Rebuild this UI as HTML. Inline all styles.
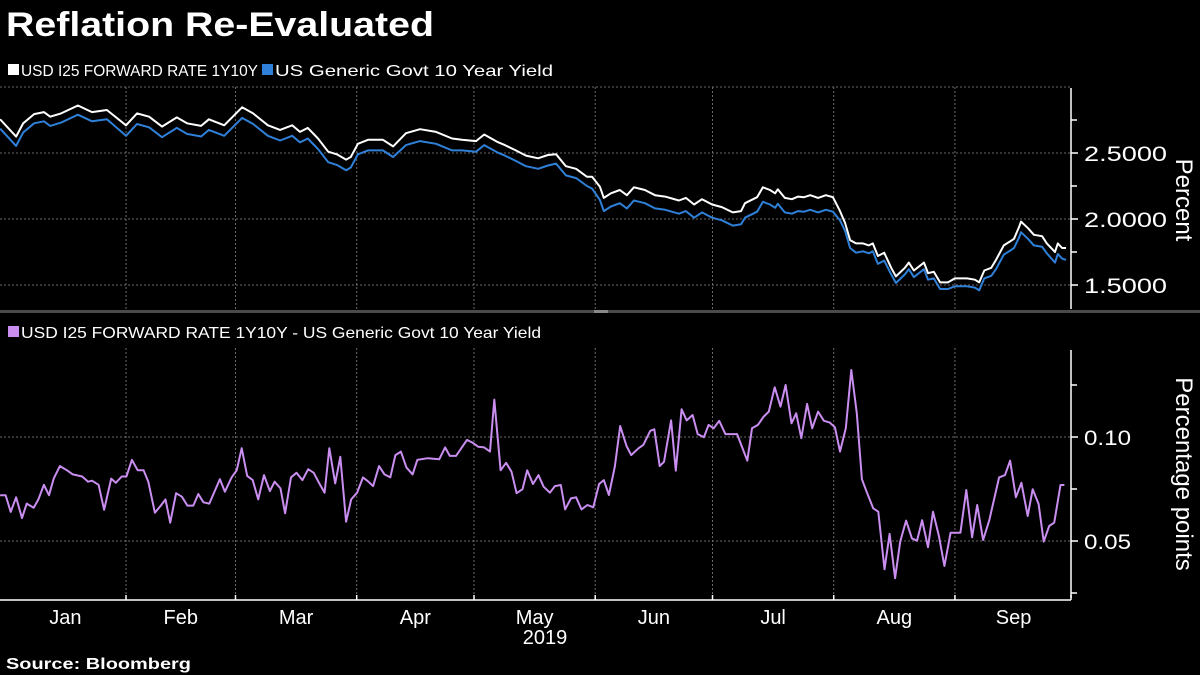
<!DOCTYPE html>
<html><head><meta charset="utf-8"><style>
html,body{margin:0;padding:0;background:#000;}
body{width:1200px;height:675px;overflow:hidden;font-family:"Liberation Sans",sans-serif;}
</style></head><body>
<svg id="chart" width="1200" height="675" xmlns="http://www.w3.org/2000/svg" style="display:block">
<text x="6" y="36" fill="#fff" font-size="34" font-weight="bold" textLength="428" lengthAdjust="spacingAndGlyphs" font-family="Liberation Sans, sans-serif">Reflation Re-Evaluated</text>
<g>
<rect x="8" y="64" width="11" height="11" fill="#fff"/>
<text x="21" y="76" fill="#fff" font-size="16" textLength="237" lengthAdjust="spacingAndGlyphs">USD I25 FORWARD RATE 1Y10Y</text>
<rect x="262" y="64" width="11" height="11" fill="#2f80d8"/>
<text x="275" y="76" fill="#fff" font-size="16" textLength="278" lengthAdjust="spacingAndGlyphs">US Generic Govt 10 Year Yield</text>
</g>
<rect x="0" y="310" width="1200" height="3" fill="#4a4a4a"/>
<rect x="594" y="310" width="14" height="3" fill="#888"/>
<g>
<rect x="8" y="326" width="11" height="11" fill="#c98ef0"/>
<text x="21" y="338" fill="#fff" font-size="16" textLength="520" lengthAdjust="spacingAndGlyphs">USD I25 FORWARD RATE 1Y10Y - US Generic Govt 10 Year Yield</text>
</g>
<text x="6" y="669" fill="#fff" font-size="16" font-weight="bold" textLength="185" lengthAdjust="spacingAndGlyphs">Source:  Bloomberg</text>
<g id="grid"></g><g id="series"></g><g id="axes"></g>
</svg>
<script>
const topDays=[-1.2,2.9,4.7,7.5,10.0,11.6,14.4,18.7,22.3,26.1,31.0,33.8,36.9,40.2,44.0,46.6,50.2,52.2,56.1,60.7,63.5,67.3,70.4,73.5,75.5,77.5,80.1,82.7,84.9,87.3,88.5,90.3,92.9,96.7,99.3,102.6,106.2,110.3,114.4,116.9,120.5,122.6,125.9,127.9,130.7,133.3,136.4,138.9,141.0,143.5,146.1,148.9,150.2,152.2,153.2,155.0,157.3,159.1,160.9,163.7,166.3,168.9,172.4,174.2,176.3,178.3,180.9,183.4,186.2,188.3,189.3,192.4,193.9,195.7,197.0,197.7,199.5,201.3,202.9,204.4,206.0,208.0,210.0,211.8,213.6,214.9,216.2,217.7,219.5,221.0,222.0,223.3,224.9,226.7,227.9,230.2,231.2,232.5,235.1,236.1,237.6,239.2,241.2,243.0,246.1,248.1,249.2,250.5,252.3,253.5,255.5,257.1,258.1,259.4,259.9,261.7,263.2,265.3,266.5,268.6,269.3,270.4,271.4];
const fwdValues=[2.755,2.624,2.725,2.795,2.81,2.775,2.80,2.86,2.81,2.826,2.71,2.80,2.775,2.70,2.77,2.725,2.705,2.755,2.71,2.846,2.80,2.71,2.675,2.71,2.66,2.69,2.61,2.51,2.49,2.45,2.47,2.57,2.60,2.60,2.55,2.65,2.68,2.66,2.61,2.60,2.59,2.64,2.585,2.56,2.52,2.48,2.46,2.485,2.49,2.40,2.38,2.32,2.32,2.245,2.16,2.195,2.22,2.18,2.24,2.22,2.18,2.17,2.14,2.16,2.11,2.15,2.11,2.09,2.05,2.06,2.12,2.165,2.24,2.22,2.195,2.225,2.16,2.15,2.17,2.165,2.18,2.16,2.18,2.165,2.06,1.97,1.84,1.815,1.815,1.80,1.815,1.72,1.745,1.63,1.565,1.63,1.67,1.61,1.67,1.59,1.60,1.52,1.52,1.55,1.55,1.54,1.52,1.61,1.63,1.69,1.80,1.83,1.85,1.94,1.98,1.93,1.88,1.87,1.815,1.75,1.815,1.78,1.78];
const ustValues=[2.685,2.554,2.655,2.725,2.74,2.705,2.73,2.79,2.74,2.756,2.63,2.72,2.695,2.62,2.69,2.645,2.625,2.675,2.63,2.766,2.72,2.63,2.595,2.63,2.58,2.61,2.53,2.43,2.41,2.37,2.39,2.49,2.52,2.52,2.47,2.56,2.59,2.57,2.52,2.52,2.51,2.56,2.505,2.48,2.44,2.40,2.38,2.405,2.42,2.33,2.31,2.25,2.23,2.145,2.06,2.095,2.12,2.08,2.14,2.12,2.08,2.07,2.04,2.06,2.01,2.05,2.01,1.99,1.95,1.96,2.01,2.055,2.13,2.11,2.085,2.115,2.05,2.04,2.06,2.055,2.07,2.05,2.07,2.055,1.99,1.91,1.78,1.745,1.755,1.74,1.755,1.66,1.685,1.58,1.515,1.58,1.62,1.56,1.62,1.54,1.55,1.47,1.47,1.49,1.49,1.48,1.46,1.55,1.57,1.62,1.73,1.76,1.78,1.86,1.90,1.85,1.80,1.79,1.74,1.67,1.735,1.70,1.69];
const spreadDays=[-1.2,0.2,1.5,2.9,4.4,5.6,7.4,8.6,10.0,11.3,12.5,14.1,15.9,17.4,19.8,21.3,22.3,24.0,25.4,27.2,28.4,29.9,31.1,32.5,34.0,35.5,36.7,38.4,39.9,41.1,42.3,43.8,45.3,46.7,48.2,49.5,50.8,52.3,53.8,55.0,56.3,58.0,59.3,60.6,62.0,63.4,64.8,66.3,67.8,69.0,70.5,71.7,73.2,74.6,76.1,77.6,79.0,80.2,81.8,83.0,84.5,85.8,87.3,88.6,90.1,91.6,93.0,94.2,95.7,97.1,98.6,99.9,101.3,102.7,104.3,105.5,108.2,111.1,112.6,113.8,115.4,118.2,119.6,121.1,122.6,124.1,125.2,126.8,128.2,129.6,130.9,132.4,133.6,135.1,136.5,137.8,139.4,140.7,142.2,143.3,144.8,146.1,147.5,149.0,150.5,152.0,153.2,154.5,156.0,157.4,159.0,160.2,162.1,163.3,165.1,166.1,167.5,168.6,170.4,171.6,173.1,174.4,175.9,177.2,178.8,180.0,181.3,182.7,184.3,187.3,189.9,191.1,192.6,194.1,195.4,196.9,198.4,199.7,201.2,202.4,203.7,205.2,206.5,208.0,209.5,211.0,212.3,213.6,215.1,216.5,217.9,219.2,220.4,222.1,223.4,225.0,226.3,227.7,229.0,230.5,232.0,233.3,234.6,236.1,237.4,238.9,240.3,241.9,244.4,245.9,247.4,248.7,250.2,251.8,254.3,255.8,257.1,258.6,260.0,261.6,262.9,264.4,265.7,267.1,268.4,270.0,271.0];
const spreadValues=[0.072,0.072,0.064,0.071,0.061,0.068,0.066,0.070,0.077,0.072,0.080,0.086,0.084,0.082,0.081,0.0785,0.079,0.077,0.065,0.080,0.078,0.081,0.081,0.089,0.084,0.084,0.0785,0.0636,0.067,0.070,0.0588,0.073,0.0713,0.067,0.067,0.0726,0.0686,0.068,0.0745,0.0797,0.0737,0.0806,0.084,0.0946,0.0813,0.0793,0.070,0.0817,0.074,0.0785,0.0753,0.0633,0.0806,0.0828,0.0793,0.0845,0.0828,0.0785,0.0732,0.0946,0.0777,0.0905,0.0593,0.070,0.0732,0.0806,0.0785,0.0764,0.086,0.082,0.0806,0.0913,0.093,0.0854,0.082,0.089,0.0898,0.0893,0.095,0.0909,0.0909,0.0986,0.0973,0.0953,0.095,0.093,0.118,0.084,0.0876,0.0833,0.073,0.0749,0.084,0.0774,0.0817,0.0761,0.0732,0.0764,0.0769,0.0652,0.0705,0.071,0.0652,0.0673,0.0662,0.0774,0.0793,0.0721,0.0857,0.1053,0.0957,0.0913,0.0946,0.0962,0.103,0.1037,0.086,0.0881,0.108,0.0838,0.1133,0.108,0.1106,0.1014,0.0999,0.1058,0.1042,0.1078,0.1014,0.1014,0.0886,0.1042,0.1058,0.1098,0.1122,0.1239,0.1146,0.125,0.1066,0.1114,0.0994,0.1159,0.1042,0.1122,0.1078,0.1069,0.1047,0.093,0.1042,0.1322,0.1114,0.0797,0.0737,0.0657,0.0641,0.0364,0.0534,0.0321,0.0497,0.0598,0.0513,0.0501,0.060,0.047,0.0641,0.0524,0.038,0.054,0.054,0.0745,0.0518,0.0673,0.0505,0.060,0.0806,0.0817,0.0886,0.071,0.078,0.062,0.0749,0.0678,0.0497,0.0572,0.0588,0.0769,0.0769];
const monthLabels=["Jan","Feb","Mar","Apr","May","Jun","Jul","Aug","Sep"];
const monthStarts=[0,31,59,90,120,151,181,212,243];
const topTicks=[1.5,2.0,2.5];
const topTickLabels=["1.5000","2.0000","2.5000"];
const topMinorTicks=[1.75,2.25,2.75];
const bottomTicks=[0.05,0.10];
const bottomTickLabels=["0.05","0.10"];
const bottomMinorTicks=[0.025,0.075,0.125];

const NS="http://www.w3.org/2000/svg";
const PX_PER_DAY=3.91, X0=4.8, AXIS_X=1071;
function xDay(d){return X0+d*PX_PER_DAY;}
function yTop(v){return 87+(3.0-v)*132;}
function yBot(v){return 437+(0.10-v)*2080;}
function mk(tag,attrs,parent){const e=document.createElementNS(NS,tag);for(const k in attrs)e.setAttribute(k,attrs[k]);parent.appendChild(e);return e;}
const grid=document.getElementById('grid'),series=document.getElementById('series'),axes=document.getElementById('axes');
const dash={stroke:"#6a6a6a","stroke-width":1,"stroke-dasharray":"2,2"};
let gl=mk('line',Object.assign({x1:0,x2:AXIS_X,y1:yTop(3.0),y2:yTop(3.0)},dash),grid);


topTicks.forEach((v,i)=>{
 const l=mk('line',Object.assign({x1:0,x2:AXIS_X,y1:yTop(v),y2:yTop(v)},dash),grid);
 
 
 const t=mk('line',{x1:AXIS_X,x2:AXIS_X+7,y1:yTop(v),y2:yTop(v),stroke:"#fff","stroke-width":1.5},axes);
 
 
 const tx=mk('text',{x:AXIS_X+13,y:yTop(v)+8,fill:"#fff","font-size":21,textLength:83,lengthAdjust:"spacingAndGlyphs"},axes);
 tx.textContent=topTickLabels[i];
 
 
});
topMinorTicks.forEach(v=>{
 const t=mk('line',{x1:AXIS_X,x2:AXIS_X+6,y1:yTop(v),y2:yTop(v),stroke:"#fff","stroke-width":1.5},axes);
 
 
});
bottomTicks.forEach((v,i)=>{
 const l=mk('line',Object.assign({x1:0,x2:AXIS_X,y1:yBot(v),y2:yBot(v)},dash),grid);
 
 
 const t=mk('line',{x1:AXIS_X,x2:AXIS_X+7,y1:yBot(v),y2:yBot(v),stroke:"#fff","stroke-width":1.5},axes);
 
 
 const tx=mk('text',{x:AXIS_X+13,y:yBot(v)+8,fill:"#fff","font-size":21,textLength:47,lengthAdjust:"spacingAndGlyphs"},axes);
 tx.textContent=bottomTickLabels[i];
 
 
});
bottomMinorTicks.forEach(v=>{
 const t=mk('line',{x1:AXIS_X,x2:AXIS_X+6,y1:yBot(v),y2:yBot(v),stroke:"#fff","stroke-width":1.5},axes);
 
 
});
monthStarts.forEach((d,i)=>{
 const x=xDay(d);
 if(i>0){
  const a=mk('line',Object.assign({x1:x,x2:x,y1:87,y2:309},dash),grid);
  
  
  const b=mk('line',Object.assign({x1:x,x2:x,y1:348,y2:600},dash),grid);
  
  
  const t=mk('line',{x1:x,x2:x,y1:595,y2:600,stroke:"#fff","stroke-width":1.5},axes);
  
  
 }
 const end=i<monthStarts.length-1?monthStarts[i+1]:273;
 const tx=mk('text',{x:xDay((d+end)/2),y:624,fill:"#fff","font-size":20,"text-anchor":"middle"},axes);
 tx.textContent=monthLabels[i];
 
 
});
const tend=mk('line',{x1:AXIS_X,x2:AXIS_X,y1:595,y2:600,stroke:"#fff","stroke-width":1.5},axes);


const yr=mk('text',{x:545,y:644,fill:"#fff","font-size":20,"text-anchor":"middle"},axes);
yr.textContent="2019";


const xa=mk('line',{x1:0,x2:AXIS_X,y1:600,y2:600,stroke:"#fff","stroke-width":1.5},axes);


const ya1=mk('line',{x1:AXIS_X,x2:AXIS_X,y1:88,y2:309,stroke:"#fff","stroke-width":1.5},axes);


const ya2=mk('line',{x1:AXIS_X,x2:AXIS_X,y1:350,y2:598,stroke:"#fff","stroke-width":1.5},axes);


const yt1=mk('text',{x:0,y:0,fill:"#fff","font-size":24,"text-anchor":"middle",transform:"translate(1176,200) rotate(90)"},axes);
yt1.textContent="Percent";


const yt2=mk('text',{x:0,y:0,fill:"#fff","font-size":24,"text-anchor":"middle",transform:"translate(1176,474) rotate(90)"},axes);
yt2.textContent="Percentage points";


function path(days,vals,yf){return days.map((d,i)=>(i?'L':'M')+xDay(d).toFixed(1)+','+yf(vals[i]).toFixed(1)).join('');}
const ust=mk('path',{d:path(topDays,ustValues,yTop),fill:"none",stroke:"#2f80d8","stroke-width":2,"stroke-linejoin":"round"},series);


const fwd=mk('path',{d:path(topDays,fwdValues,yTop),fill:"none",stroke:"#fff","stroke-width":2,"stroke-linejoin":"round"},series);


const sp=mk('path',{d:path(spreadDays,spreadValues,yBot),fill:"none",stroke:"#c98ef0","stroke-width":2,"stroke-linejoin":"round"},series);


</script>
</body></html>
